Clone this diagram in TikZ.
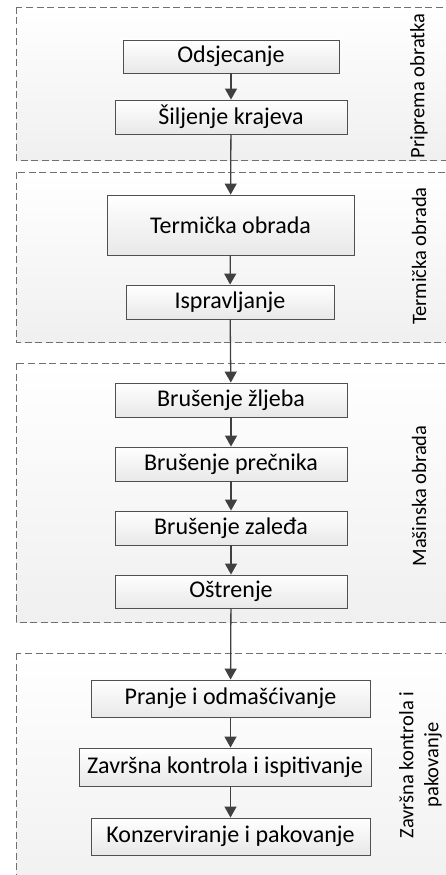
\documentclass[tikz,border=0pt]{standalone}
\usepackage{fontspec}
\setmainfont{Carlito}
\usetikzlibrary{arrows.meta,shadows}
\definecolor{boxline}{HTML}{505050}
\definecolor{arrowc}{HTML}{404040}
\definecolor{grpline}{HTML}{707070}
\tikzset{
  grp/.style={draw=grpline, line width=0.9pt, dash pattern=on 7pt off 3.5pt, top color=white, bottom color=black!6},
  stepbox/.style={draw=boxline, line width=0.9pt, top color=white, bottom color=black!9, minimum width=#1, minimum height=34pt, inner sep=0pt,
    font=\fontsize{24}{28}\selectfont, drop shadow={shadow xshift=1.2pt, shadow yshift=-1.2pt, opacity=0.25, fill=black!60}},
  grplabel/.style={rotate=90, font=\fontsize{20.5}{25}\selectfont, align=center, text=black, inner sep=0pt},
  flow/.style={draw=arrowc, line width=1.3pt, -{Triangle[length=11pt,width=12pt]}}
}
\begin{document}
\begin{tikzpicture}[x=1pt,y=-1pt]
\path[use as bounding box] (0,0) rectangle (446,875);
\clip (0,0) rectangle (446,875);
\fill[white] (0,0) rectangle (446,875);
% groups
\path[grp] (16,7) rectangle (470,160);
\path[grp] (16,172) rectangle (470,342);
\path[grp] (16,363) rectangle (470,622);
\path[grp] (16,653) rectangle (470,900);
\node[grplabel] (l1) at (419,86) {Priprema obratka};
\node[grplabel] (l2) at (419,256) {Termička obrada};
\node[grplabel] (l3) at (419,496) {Mašinska obrada};
\node[grplabel] (l4) at (420.5,765) {Završna kontrola i\\pakovanje};
% steps
\node[stepbox=216pt, minimum height=33pt] (n1) at (231,56.5) {Odsjecanje};
\node[stepbox=232pt] (n2) at (231,117) {Šiljenje krajeva};
\node[stepbox=247pt, minimum height=60pt] (n3) at (230.5,225) {Termička obrada};
\node[stepbox=208pt] (n4) at (230,302) {Ispravljanje};
\node[stepbox=232pt] (n5) at (231,400) {Brušenje žljeba};
\node[stepbox=232pt] (n6) at (231,464) {Brušenje prečnika};
\node[stepbox=232pt] (n7) at (231,528) {Brušenje zaleđa};
\node[stepbox=232pt, minimum height=33pt] (n8) at (231,591.5) {Oštrenje};
\node[stepbox=279pt, minimum height=37pt] (n9) at (230.5,698.5) {Pranje i odmašćivanje};
\node[stepbox=292pt, minimum height=38pt] (n10) at (225,767) {Završna kontrola i ispitivanje};
\node[stepbox=279pt, minimum height=37pt] (n11) at (230.5,836.5) {Konzerviranje i pakovanje};
% connectors
\draw[flow] (n1) -- (n2);
\draw[flow] (n2) -- (n3);
\draw[flow] (n3) -- (n4);
\draw[flow] (n4) -- (n5);
\draw[flow] (n5) -- (n6);
\draw[flow] (n6) -- (n7);
\draw[flow] (n7) -- (n8);
\draw[flow] (n8) -- (n9);
\draw[flow] (n9.south) -- (n9.south |- n10.north);
\draw[flow] (n11.north |- n10.south) -- (n11.north);
\end{tikzpicture}
\end{document}
